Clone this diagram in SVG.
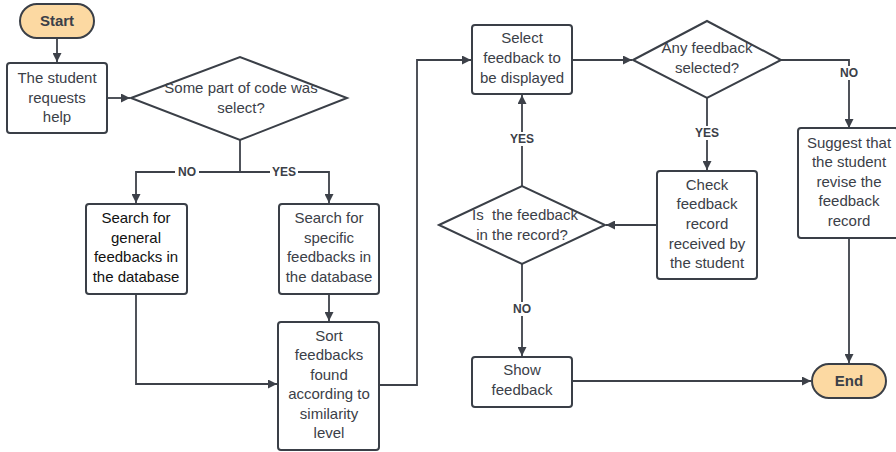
<svg xmlns="http://www.w3.org/2000/svg" width="896" height="452" viewBox="0 0 896 452">
  <style>
    .box { fill: #ffffff; stroke: #3a3f47; stroke-width: 2; }
    .term { fill: #fcd9a2; stroke: #3a3f47; stroke-width: 2; }
    .txt { font-family: "Liberation Sans", Arial, sans-serif; font-size: 15px; fill: #3b4048; text-anchor: middle; }
    .dark { fill: #111111; }
    .bold { font-weight: bold; }
    .lbl { font-family: "Liberation Sans", Arial, sans-serif; font-size: 12px; font-weight: bold; fill: #3b4048; text-anchor: middle; }
    .edge { fill: none; stroke: #3d4149; stroke-width: 1.8; }
    .lblbg { fill: #ffffff; }
  </style>
  <defs>
    <marker id="arrow" viewBox="0 0 10 10" refX="10" refY="5" markerWidth="5" markerHeight="5" orient="auto" markerUnits="strokeWidth">
      <path d="M0,0 L10,5 L0,10 z" fill="#3d4149"/>
    </marker>
  </defs>
  <rect width="896" height="452" fill="#ffffff"/>

  <g id="connectors">
    <path class="edge" d="M57,38 V62" marker-end="url(#arrow)"/>
    <path class="edge" d="M107,98 H130" marker-end="url(#arrow)"/>
    <path class="edge" d="M240,140 V172"/>
    <path class="edge" d="M240,172 H136 V203" marker-end="url(#arrow)"/>
    <path class="edge" d="M240,172 H329 V203" marker-end="url(#arrow)"/>
    <path class="edge" d="M136,294 V384 H277" marker-end="url(#arrow)"/>
    <path class="edge" d="M329,294 V321" marker-end="url(#arrow)"/>
    <path class="edge" d="M379,385 H417 V60 H471" marker-end="url(#arrow)"/>
    <path class="edge" d="M572,60 H632" marker-end="url(#arrow)"/>
    <path class="edge" d="M781,60 H849 V128" marker-end="url(#arrow)"/>
    <path class="edge" d="M707,98 V170" marker-end="url(#arrow)"/>
    <path class="edge" d="M657,225 H606" marker-end="url(#arrow)"/>
    <path class="edge" d="M522,186 V95" marker-end="url(#arrow)"/>
    <path class="edge" d="M522,264 V356" marker-end="url(#arrow)"/>
    <path class="edge" d="M572,381 H811" marker-end="url(#arrow)"/>
    <path class="edge" d="M849,238 V363" marker-end="url(#arrow)"/>

    <rect class="lblbg" x="175" y="165" width="24" height="14"/>
    <text class="lbl" x="187" y="176">NO</text>
    <rect class="lblbg" x="270" y="165" width="28" height="14"/>
    <text class="lbl" x="284" y="176">YES</text>
    <rect class="lblbg" x="837" y="66" width="24" height="14"/>
    <text class="lbl" x="849" y="77">NO</text>
    <rect class="lblbg" x="693" y="126" width="28" height="14"/>
    <text class="lbl" x="707" y="137">YES</text>
    <rect class="lblbg" x="508" y="132" width="28" height="14"/>
    <text class="lbl" x="522" y="143">YES</text>
    <rect class="lblbg" x="510" y="302" width="24" height="14"/>
    <text class="lbl" x="522" y="313">NO</text>
  </g>

  <g id="start">
    <rect class="term" x="20" y="4" width="74" height="34" rx="17"/>
    <text class="txt bold" x="57" y="26">Start</text>
  </g>

  <g id="request-help">
    <rect class="box" x="7" y="63" width="100" height="70" rx="3"/>
    <text class="txt" x="57" y="83">The student</text>
    <text class="txt" x="57" y="103">requests</text>
    <text class="txt" x="57" y="122">help</text>
  </g>

  <g id="code-selected">
    <polygon class="box" points="131,98 240,57 347,98 240,140"/>
    <text class="txt" x="241" y="93">Some part of code was</text>
    <text class="txt" x="241" y="113">select?</text>
  </g>

  <g id="search-general">
    <rect class="box" x="86" y="204" width="101" height="90" rx="3"/>
    <text class="txt dark" x="136" y="223">Search for</text>
    <text class="txt dark" x="136" y="243">general</text>
    <text class="txt dark" x="136" y="262">feedbacks in</text>
    <text class="txt dark" x="136" y="282">the database</text>
  </g>

  <g id="search-specific">
    <rect class="box" x="279" y="204" width="100" height="90" rx="3"/>
    <text class="txt" x="329" y="223">Search for</text>
    <text class="txt" x="329" y="243">specific</text>
    <text class="txt" x="329" y="262">feedbacks in</text>
    <text class="txt" x="329" y="282">the database</text>
  </g>

  <g id="sort-feedbacks">
    <rect class="box" x="278" y="322" width="101" height="128" rx="3"/>
    <text class="txt" x="329" y="341">Sort</text>
    <text class="txt" x="329" y="360">feedbacks</text>
    <text class="txt" x="329" y="380">found</text>
    <text class="txt" x="329" y="399">according to</text>
    <text class="txt" x="329" y="419">similarity</text>
    <text class="txt" x="329" y="438">level</text>
  </g>

  <g id="select-feedback">
    <rect class="box" x="472" y="25" width="100" height="69" rx="3"/>
    <text class="txt" x="522" y="43">Select</text>
    <text class="txt" x="522" y="63">feedback to</text>
    <text class="txt" x="522" y="83">be displayed</text>
  </g>

  <g id="any-selected">
    <polygon class="box" points="633,60 707,21 781,60 707,98"/>
    <text class="txt" x="707" y="53">Any feedback</text>
    <text class="txt" x="707" y="73">selected?</text>
  </g>

  <g id="suggest-revise">
    <rect class="box" x="798" y="128" width="100" height="110" rx="3"/>
    <text class="txt" x="849" y="148">Suggest that</text>
    <text class="txt" x="849" y="167">the student</text>
    <text class="txt" x="849" y="187">revise the</text>
    <text class="txt" x="849" y="206">feedback</text>
    <text class="txt" x="849" y="226">record</text>
  </g>

  <g id="check-record">
    <rect class="box" x="657" y="171" width="100" height="108" rx="3"/>
    <text class="txt" x="707" y="190">Check</text>
    <text class="txt" x="707" y="209">feedback</text>
    <text class="txt" x="707" y="229">record</text>
    <text class="txt" x="707" y="249">received by</text>
    <text class="txt" x="707" y="268">the student</text>
  </g>

  <g id="in-record">
    <polygon class="box" points="439,225 522,186 605,225 522,264"/>
    <text class="txt" x="525" y="220">Is&#160; the feedback</text>
    <text class="txt" x="522" y="240">in the record?</text>
  </g>

  <g id="show-feedback">
    <rect class="box" x="472" y="357" width="100" height="50" rx="3"/>
    <text class="txt" x="522" y="375">Show</text>
    <text class="txt" x="522" y="395">feedback</text>
  </g>

  <g id="end">
    <rect class="term" x="812" y="364" width="74" height="34" rx="17"/>
    <text class="txt bold" x="849" y="386">End</text>
  </g>
</svg>
